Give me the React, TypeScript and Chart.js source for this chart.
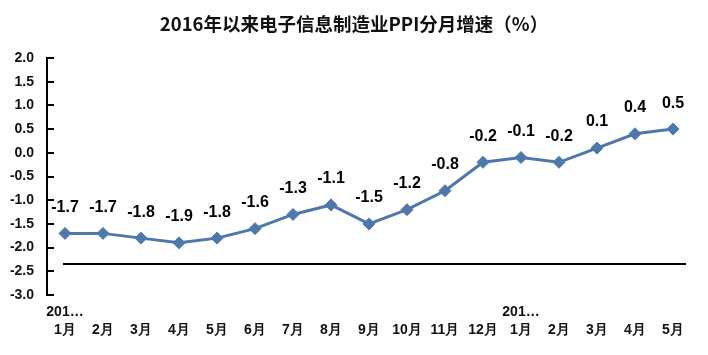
import React, { useEffect, useRef } from "react";
import { Chart, registerables } from "chart.js";

Chart.register(...registerables);

const titleText = "2016年以来电子信息制造业PPI分月增速（%）";
const yearLabels = ["201…", "", "", "", "", "", "", "", "", "", "", "", "201…", "", "", "", ""];
const monthLabels = ["1月", "2月", "3月", "4月", "5月", "6月", "7月", "8月", "9月", "10月", "11月", "12月", "1月", "2月", "3月", "4月", "5月"];
const ppiGrowth = [-1.7, -1.7, -1.8, -1.9, -1.8, -1.6, -1.3, -1.1, -1.5, -1.2, -0.8, -0.2, -0.1, -0.2, 0.1, 0.4, 0.5];
const baseLineValue = -2.35;
const yMin = -3.0;
const yMax = 2.0;
const yStep = 0.5;

const decorPlugin = {
  id: "decor",
  afterDraw(chart: any) {
    const ctx = chart.ctx;
    const x = chart.scales.x;
    const y = chart.scales.y;
    const p0 = x.getPixelForValue(0);
    const p1 = x.getPixelForValue(1);
    const ax = Math.round(p0 - (p1 - p0) / 2) + 1;
    const top = Math.round(y.getPixelForValue(yMax));
    const bottom = Math.round(y.getPixelForValue(yMin));
    ctx.save();
    ctx.fillStyle = "#000000";
    ctx.fillRect(ax - 1, top - 1, 2, bottom - top + 2);
    for (let k = 0; k <= Math.round((yMax - yMin) / yStep); k++) {
      const py = Math.round(y.getPixelForValue(yMin + k * yStep));
      ctx.fillRect(ax - 1, py - 1, 8, 2);
    }
    const by = Math.round(y.getPixelForValue(baseLineValue));
    const bx0 = Math.round(x.getPixelForValue(0) - 2);
    const bx1 = Math.round(x.getPixelForValue(ppiGrowth.length - 1) + 13);
    ctx.fillRect(bx0, by - 1, bx1 - bx0, 2);
    ctx.font = "bold 16px Arial, 'Liberation Sans', sans-serif";
    ctx.textAlign = "center";
    ctx.textBaseline = "middle";
    ppiGrowth.forEach((v, i) => {
      const px = x.getPixelForValue(i);
      const py = y.getPixelForValue(v);
      ctx.fillText(v.toFixed(1), px, py - 26);
    });
    ctx.restore();
  },
};

export default function App() {
  const ref = useRef<HTMLCanvasElement>(null);
  useEffect(() => {
    if (!ref.current) return;
    const labels = monthLabels.map((m, i) => [yearLabels[i], m]);
    const chart = new Chart(ref.current, {
      type: "line",
      data: {
        labels,
        datasets: [
          {
            data: ppiGrowth,
            borderColor: "#4E78AC",
            backgroundColor: "#4E78AC",
            borderWidth: 3,
            pointStyle: "rectRot",
            pointRadius: 6,
            pointBorderWidth: 1,
            tension: 0,
            yAxisID: "y",
          },
        ],
      },
      plugins: [decorPlugin],
      options: {
        animation: false,
        responsive: false,
        devicePixelRatio: 1,
        layout: { padding: { left: 0, right: 0, top: 0, bottom: 0 } },
        plugins: {
          legend: { display: false },
          tooltip: { enabled: false },
          title: {
            display: true,
            text: titleText,
            color: "#111",
            font: { family: "'Noto Sans CJK SC', sans-serif", size: 18.5, weight: "bold", lineHeight: 1.2 },
            padding: { top: 13, bottom: 22.8 },
          },
        },
        scales: {
          x: {
            offset: true,
            grid: { display: false, drawTicks: false },
            border: { display: false },
            ticks: {
              color: "#111",
              font: { family: "Arial, 'Liberation Sans', sans-serif", size: 14, weight: "bold", lineHeight: 1.3 },
              padding: 8,
              maxRotation: 0,
              autoSkip: false,
            },
            afterFit(scale: any) {
              scale.height = 60;
            },
          },
          y: {
            min: yMin,
            max: yMax,
            grid: { display: false, drawTicks: false },
            border: { display: false },
            ticks: {
              stepSize: yStep,
              color: "#111",
              font: { family: "Arial, 'Liberation Sans', sans-serif", size: 14, weight: "bold" },
              padding: 12,
              callback: (v: any) => Number(v).toFixed(1),
            },
            afterFit(scale: any) {
              scale.width = 46;
            },
          },
          yRight: {
            position: "right",
            display: true,
            grid: { display: false, drawTicks: false },
            border: { display: false },
            ticks: { display: false },
            afterFit(scale: any) {
              scale.width = 16;
            },
          },
        },
      },
    });
    return () => chart.destroy();
  }, []);
  return (
    <div style={{ position: "absolute", left: 0, top: 0, width: 708, height: 355, background: "#fff" }}>
      <canvas ref={ref} width={708} height={355} />
    </div>
  );
}
